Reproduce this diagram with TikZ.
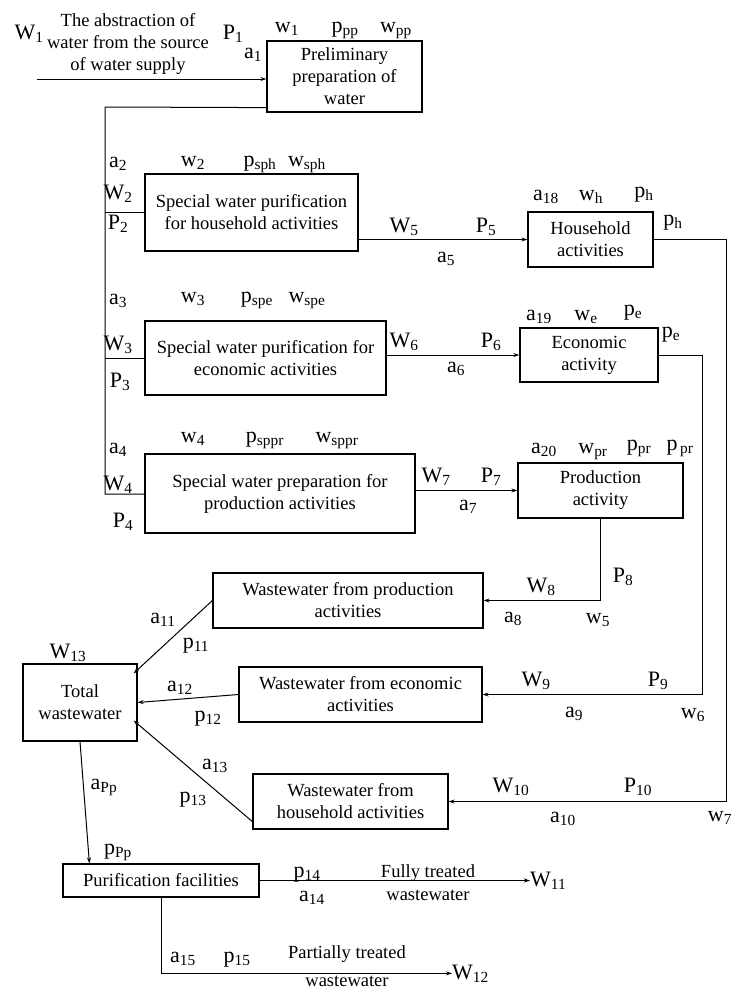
\documentclass[tikz,border=0pt]{standalone}
\usepackage{fontspec}
\setmainfont{Liberation Serif}
\usetikzlibrary{arrows.meta,positioning}
\newcommand{\vsub}[2]{#1\textsubscript{#2}}

\begin{document}
\begin{tikzpicture}[
  x=1pt, y=-1pt,
  >={Stealth[length=6pt,width=4pt]},
  box/.style={draw, line width=1.2pt, align=center, inner sep=2pt, font=\fontsize{18.5}{22}\selectfont},
  lab/.style={anchor=base, inner sep=0pt, font=\fontsize{22}{26}\selectfont},
  remark/.style={align=center, inner sep=0pt, font=\fontsize{18.5}{22}\selectfont},
  arr/.style={->, line width=1pt},
  link/.style={line width=1pt},
]
\useasboundingbox (0,0) rectangle (731,989);

\node[box, minimum width=155pt, minimum height=71pt] (pre) at (344.5,76.5) {Preliminary\\preparation of\\water};
\node[box, minimum width=213pt, minimum height=77pt] (sph) at (251.5,212.5) {Special water purification\\for household activities};
\node[box, minimum width=241pt, minimum height=74pt] (spe) at (265.5,358) {Special water purification for\\economic activities};
\node[box, minimum width=270pt, minimum height=79pt] (sppr) at (280,493.5) {Special water preparation for\\production activities};
\node[box, minimum width=125pt, minimum height=55pt] (hh) at (590.5,239.5) {Household\\activities};
\node[box, minimum width=138pt, minimum height=54pt] (ec) at (589,355) {Economic\\activity};
\node[box, minimum width=165pt, minimum height=55pt] (pr) at (600.5,490.5) {Production\\activity};
\node[box, minimum width=270pt, minimum height=55pt] (wwpr) at (348,600.5) {Wastewater from production\\activities};
\node[box, minimum width=114pt, minimum height=77pt] (tot) at (80,702.5) {Total\\wastewater};
\node[box, minimum width=243pt, minimum height=55pt] (wwec) at (360.5,694.5) {Wastewater from economic\\activities};
\node[box, minimum width=195pt, minimum height=55pt] (wwhh) at (350.5,801.5) {Wastewater from\\household activities};
\node[box, minimum width=196pt, minimum height=33pt] (pf) at (161,880.5) {Purification facilities};

\node[remark] (srctxt) at (128,44) {The abstraction of\\water from the source\\of water supply};
\node[remark] (fulltxt) at (428,883) {Fully treated\\[1pt]wastewater};
\node[remark] (parttxt) at (347,966) {Partially treated\\[6pt]wastewater};

\node[lab] (W1) at (29,39) {\vsub{W}{1}};
\node[lab] (P1) at (233,39) {\vsub{P}{1}};
\node[lab] (a1) at (253,58) {\vsub{a}{1}};
\node[lab] (w1) at (287,32) {\vsub{w}{1}};
\node[lab] (ppp) at (345,32) {\vsub{p}{pp}};
\node[lab] (wpp) at (396,32) {\vsub{w}{pp}};

\node[lab] (a2) at (118,167) {\vsub{a}{2}};
\node[lab] (w2) at (193,166) {\vsub{w}{2}};
\node[lab] (psph) at (260,166) {\vsub{p}{sph}};
\node[lab] (wsph) at (307,166) {\vsub{w}{sph}};
\node[lab] (W2) at (118,199) {\vsub{W}{2}};
\node[lab] (P2) at (118,229) {\vsub{P}{2}};
\node[lab] (W5) at (404,232) {\vsub{W}{5}};
\node[lab] (P5) at (486,232) {\vsub{P}{5}};
\node[lab] (a5) at (446,262) {\vsub{a}{5}};
\node[lab] (a18) at (546,200) {\vsub{a}{18}};
\node[lab] (wh) at (591,200) {\vsub{w}{h}};
\node[lab] (ph1) at (644,197) {\vsub{p}{h}};
\node[lab] (ph2) at (673,225) {\vsub{p}{h}};

\node[lab] (a3) at (118,304) {\vsub{a}{3}};
\node[lab] (w3) at (193,302) {\vsub{w}{3}};
\node[lab] (pspe) at (257,302) {\vsub{p}{spe}};
\node[lab] (wspe) at (307,302) {\vsub{w}{spe}};
\node[lab] (W3) at (118,350) {\vsub{W}{3}};
\node[lab] (P3) at (120,387) {\vsub{P}{3}};
\node[lab] (W6) at (404,347) {\vsub{W}{6}};
\node[lab] (P6) at (491,347) {\vsub{P}{6}};
\node[lab] (a6) at (456,372) {\vsub{a}{6}};
\node[lab] (a19) at (539,320) {\vsub{a}{19}};
\node[lab] (we) at (586,320) {\vsub{w}{e}};
\node[lab] (pe1) at (633,315) {\vsub{p}{e}};
\node[lab] (pe2) at (671,337) {\vsub{p}{e}};

\node[lab] (a4) at (118,453) {\vsub{a}{4}};
\node[lab] (w4) at (193,442) {\vsub{w}{4}};
\node[lab] (psppr) at (265,442) {\vsub{p}{sppr}};
\node[lab] (wsppr) at (337,442) {\vsub{w}{sppr}};
\node[lab] (W4) at (118,490) {\vsub{W}{4}};
\node[lab] (P4) at (123,527) {\vsub{P}{4}};
\node[lab] (W7) at (436,482) {\vsub{W}{7}};
\node[lab] (P7) at (491,482) {\vsub{P}{7}};
\node[lab] (a7) at (468,510) {\vsub{a}{7}};
\node[lab] (a20) at (544,453) {\vsub{a}{20}};
\node[lab] (wpr) at (593,453) {\vsub{w}{pr}};
\node[lab] (ppr1) at (639,450) {\vsub{p}{pr}};
\node[lab] (ppr2) at (680,450) {\vsub{p}{\,pr}};

\node[lab] (P8) at (623,582) {\vsub{P}{8}};
\node[lab] (W8) at (541,592) {\vsub{W}{8}};
\node[lab] (a8) at (513,622) {\vsub{a}{8}};
\node[lab] (w5) at (598,623) {\vsub{w}{5}};
\node[lab] (a11) at (163,623) {\vsub{a}{11}};
\node[lab] (p11) at (196,648) {\vsub{p}{11}};
\node[lab] (W13) at (68,658) {\vsub{W}{13}};

\node[lab] (a12) at (180,691) {\vsub{a}{12}};
\node[lab] (p12) at (208,721) {\vsub{p}{12}};
\node[lab] (W9) at (536,686) {\vsub{W}{9}};
\node[lab] (P9) at (658,686) {\vsub{P}{9}};
\node[lab] (a9) at (574,717) {\vsub{a}{9}};
\node[lab] (w6) at (693,718) {\vsub{w}{6}};

\node[lab] (a13) at (215,769) {\vsub{a}{13}};
\node[lab] (p13) at (193,802) {\vsub{p}{13}};
\node[lab] (W10) at (511,792) {\vsub{W}{10}};
\node[lab] (P10) at (638,792) {\vsub{P}{10}};
\node[lab] (a10) at (563,822) {\vsub{a}{10}};
\node[lab] (w7) at (720,821) {\vsub{w}{7}};
\node[lab] (aPp) at (104,789) {\vsub{a}{Pp}};
\node[lab] (pPp) at (118,854) {\vsub{p}{Pp}};

\node[lab] (p14) at (307,877) {\vsub{p}{14}};
\node[lab] (a14) at (312,901) {\vsub{a}{14}};
\node[lab, anchor=base west] (W11) at (530,886) {\vsub{W}{11}};
\node[lab] (a15) at (183,962) {\vsub{a}{15}};
\node[lab] (p15) at (237,962) {\vsub{p}{15}};
\node[lab, anchor=base west] (W12) at (452,979) {\vsub{W}{12}};

\coordinate (src) at (37,79);
\coordinate (bustop) at (105,107);
\coordinate (busbot) at (105,494);
\coordinate (hhcorner) at (726,801.5);
\coordinate (eccorner) at (702,694.5);

\draw[arr] (src) -- (src -| pre.west);
\draw[link] ([yshift=5pt]pre.south west) -- (bustop) -- (busbot) -- (busbot -| sppr.west);
\draw[link] (bustop |- sph.west) -- (sph.west);
\draw[link] (bustop |- spe.west) -- (spe.west);
\draw[arr] (sph.east |- hh.west) -- (hh.west);
\draw[arr] (spe.east |- ec.west) -- (ec.west);
\draw[arr] (sppr.east |- pr.west) -- (pr.west);
\draw[arr] (hh.east) -| (hhcorner) -- (wwhh.east);
\draw[arr] (ec.east) -| (eccorner) -- (wwec.east);
\draw[arr] (pr.south) |- (wwpr.east);
\draw[arr] (wwpr.west) -- ([xshift=-4pt,yshift=-10pt]tot.north east);
\draw[arr] (wwec.west) -- (tot.east);
\draw[arr] ([yshift=8pt]wwhh.south west) -- ([xshift=-4pt,yshift=-18pt]tot.east);
\draw[arr] (tot.south) -- ([xshift=27pt]pf.north west);
\draw[arr] (pf.east) -- (pf.east -| W11.west);
\draw[arr] (pf.south) |- (W12.west);

\end{tikzpicture}
\end{document}
